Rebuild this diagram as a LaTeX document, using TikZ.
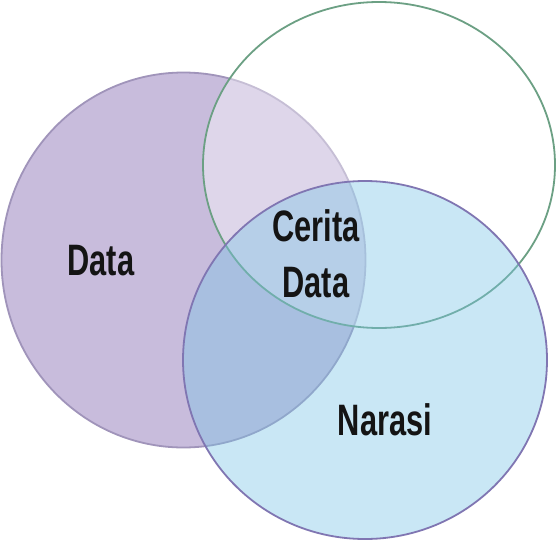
\documentclass[tikz,border=0pt]{standalone}
\usepackage{fontspec}
\newfontfamily\venfont[FakeStretch=0.7]{Liberation Sans}
\definecolor{datafill}{RGB}{200,188,220}
\definecolor{dataline}{RGB}{160,148,186}
\definecolor{ceritaline}{RGB}{108,160,132}
\definecolor{narasifill}{RGB}{122,197,230}
\definecolor{narasiline}{RGB}{128,118,178}
\tikzset{
  venlabel/.style={font=\venfont\bfseries\fontsize{44}{56}\selectfont, text=black!92, align=center, inner sep=0pt}
}
\begin{document}
\begin{tikzpicture}[x=1pt,y=-1pt,line width=1.8pt]
\useasboundingbox (0,0) rectangle (556,541);
\fill[white] (0,0) rectangle (556,541);
\filldraw[fill=datafill, draw=dataline] (183.5,260) ellipse [x radius=182, y radius=187.5];
\filldraw[fill=white, fill opacity=0.4, draw=ceritaline] (379,165) ellipse [x radius=176, y radius=163];
\filldraw[fill=narasifill, fill opacity=0.4, draw=narasiline] (365,360) ellipse [x radius=182, y radius=179];
\node[venlabel, anchor=base] (data) at (101,275) {Data};
\node[venlabel, anchor=base] (cerita) at (316,297) {Cerita\\Data};
\node[venlabel, anchor=base] (narasi) at (385,435) {Narasi};
\end{tikzpicture}
\end{document}
